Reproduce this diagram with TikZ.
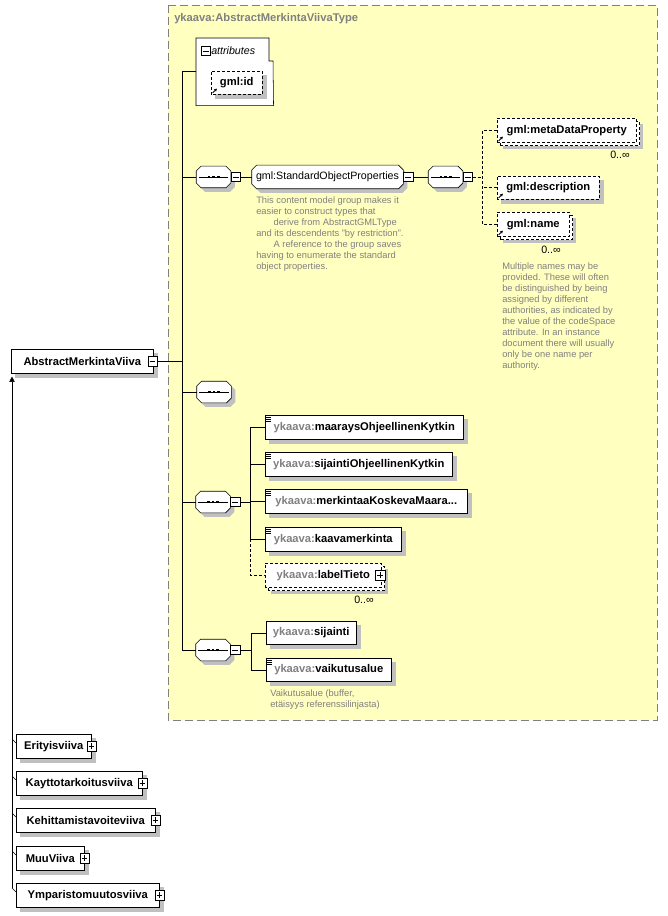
\documentclass[tikz,border=0pt]{standalone}
\usepackage{fontspec}
\setmainfont{Liberation Sans}
\usepackage{tikz}
\usetikzlibrary{calc}
\usetikzlibrary{arrows.meta}

\definecolor{bgyellow}{HTML}{FFFFC0}
\definecolor{framegray}{HTML}{808080}
\definecolor{shadowgray}{HTML}{C0C0C0}
\definecolor{docgray}{HTML}{808080}

\pgfdeclarelayer{back}
\pgfdeclarelayer{bg}
\pgfsetlayers{back,bg,main}

\newcommand{\ykns}{\textcolor{docgray}{ykaava:}}
% octagon outline behind a node
\newcommand{\octo}[2]{%
	\begin{pgfonlayer}{bg}
		\draw[fill=white, dshadow] ([xshift=#2]#1.north west) -- ([xshift=-#2]#1.north east) -- ([yshift=-#2]#1.north east) -- ([yshift=#2]#1.south east) -- ([xshift=-#2]#1.south east) -- ([xshift=#2]#1.south west) -- ([yshift=#2]#1.south west) -- ([yshift=-#2]#1.north west) -- cycle;
	\end{pgfonlayer}}
\newcommand{\seqmark}[1]{%
	\draw ([xshift=2pt]#1.west) -- ([xshift=-2pt]#1.east);
	\foreach \d in {-3.4pt,0pt,3.4pt}
	\fill[black] ([xshift=\d]#1.center) ++(-1.1pt,-1.1pt) rectangle ++(2.2pt,2.2pt);}

\tikzset{
	dshadow/.style={preaction={fill=shadowgray, draw=none, transform canvas={shift={(3pt,-3pt)}}}},
	elem/.style={draw, fill=white, inner sep=0pt, minimum height=18pt, font=\fontsize{8.4}{10}\selectfont\bfseries},
	opt/.style={fill=white, inner sep=0pt, minimum height=18pt, font=\fontsize{8.4}{10}\selectfont\bfseries},
	seqn/.style={inner sep=0pt, minimum width=25.5pt, minimum height=15.75pt},
	grp/.style={inner sep=0pt, minimum width=113.25pt, minimum height=17.25pt, font=\fontsize{8}{10}\selectfont},
	mbox/.style={draw, fill=white, minimum size=7pt, inner sep=0pt, path picture={\draw ([xshift=1.4pt]path picture bounding box.west) -- ([xshift=-1.4pt]path picture bounding box.east);}},
	pbox/.style={draw, fill=white, minimum size=7pt, inner sep=0pt, path picture={\draw ([xshift=1.4pt]path picture bounding box.west) -- ([xshift=-1.4pt]path picture bounding box.east); \draw ([yshift=1.4pt]path picture bounding box.south) -- ([yshift=-1.4pt]path picture bounding box.north);}},
	dline/.style={dash pattern=on 2.25pt off 1.5pt},
	doc/.style={anchor=north west, align=left, inner sep=0pt, text=docgray, font=\fontsize{7}{8.25}\selectfont},
	card/.style={inner sep=0pt, font=\fontsize{8}{10}\selectfont}
}

\begin{document}
\begin{tikzpicture}[x=0.75pt, y=-0.75pt, line width=0.75pt]
	\useasboundingbox (0,0) rectangle (667,916);
	\begin{pgfonlayer}{back}
		\fill[bgyellow] (168,5) rectangle (657,720);
		\draw[framegray, dash pattern=on 6pt off 3pt] (168,5) rectangle (657,720);
	\end{pgfonlayer}
	\node[anchor=west, inner sep=0pt, text=framegray, font=\fontsize{8.4}{10}\selectfont\bfseries] (title) at (174,19) {ykaava:AbstractMerkintaViivaType};

	% attributes
	\node[anchor=north west, minimum width=57.75pt, minimum height=50.25pt] (attr) at (196,38) {};
	\begin{pgfonlayer}{bg}
		\draw[fill=white] (attr.north west) -- ++(73,0) -- ++(0,23) -- ++(4,0) -- (attr.south east) -- (attr.south west) -- cycle;
	\end{pgfonlayer}
	\node[mbox] (mattr) at (206,51) {};
	\node[anchor=west, inner sep=0pt, font=\fontsize{8}{10}\selectfont\itshape] (attrtxt) at (211,51) {attributes};
	\node[opt, anchor=north west, minimum width=38.25pt, minimum height=17.25pt] (gmlid) at (211,71) {gml:id};

	% gml:StandardObjectProperties
	\node[seqn] (seq1) at (213.5,177) {};
	\octo{seq1}{3.5pt}\seqmark{seq1}
	\node[mbox, anchor=west] (m1) at (seq1.east) {};
	\node[grp] (grp) at (327.5,177) {gml:StandardObjectProperties};
	\octo{grp}{3.5pt}
	\node[mbox, anchor=west] (m2) at (grp.east) {};
	\node[doc] (grpdoc) at (256,196) {This content model group makes it\\easier to construct types that\\\hspace*{13pt}derive from AbstractGMLType\\and its descendents "by restriction".\\\hspace*{13pt}A reference to the group saves\\having to enumerate the standard\\object properties.};
	\node[seqn] (seq2) at (445.5,177) {};
	\octo{seq2}{3.5pt}\seqmark{seq2}
	\node[mbox, anchor=west] (m3) at (seq2.east) {};
	\node[opt, anchor=north west, minimum width=104.25pt] (meta) at (497,118) {gml:metaDataProperty};
	\node[card] (cmeta) at (620,155) {0..∞};
	\node[opt, anchor=north west, minimum width=76.5pt, minimum height=17.25pt] (desc) at (497,176) {gml:description};
	\node[opt, anchor=north west, minimum width=54pt] (name) at (497,212) {gml:name};
	\node[card] (cname) at (551,250) {0..∞};
	\node[doc] (namedoc) at (502,262) {Multiple names may be\\provided.  These will often\\be distinguished by being\\assigned by different\\authorities, as indicated by\\the value of the codeSpace\\attribute.  In an instance\\document there will usually\\only be one name per\\authority.};

	% AbstractMerkintaViiva
	\node[elem, anchor=north west, minimum width=106.5pt] (abs) at (11,349) {AbstractMerkintaViiva};
	\node[mbox] (mabs) at ([xshift=-0.75pt]abs.east) {};

	\node[seqn] (seq3) at (214,392) {};
	\octo{seq3}{3.5pt}\seqmark{seq3}

	\node[seqn] (seq4) at (213,502) {};
	\octo{seq4}{3.5pt}\seqmark{seq4}
	\node[mbox, anchor=west] (m4) at (seq4.east) {};
	\node[elem, anchor=north west, minimum width=148.5pt] (maara) at (265,415) {\ykns maaraysOhjeellinenKytkin};
	\node[elem, anchor=north west, minimum width=140.25pt] (sijok) at (265,452) {\ykns sijaintiOhjeellinenKytkin};
	\node[elem, anchor=north west, minimum width=151.5pt] (merk) at (265,489) {\ykns merkintaaKoskevaMaara...};
	\node[elem, anchor=north west, minimum width=102pt] (kaava) at (265,527) {\ykns kaavamerkinta};
	\node[opt, anchor=north west, minimum width=87pt] (label) at (265,563) {\ykns labelTieto};
	\node[card] (clabel) at (364,600) {0..∞};

	\node[seqn] (seq5) at (213,650) {};
	\octo{seq5}{3.5pt}\seqmark{seq5}
	\node[mbox, anchor=west] (m5) at (seq5.east) {};
	\node[elem, anchor=north west, minimum width=67.5pt, minimum height=17.25pt] (sij) at (266,621) {\ykns sijainti};
	\node[elem, anchor=north west, minimum width=93.75pt, minimum height=17.25pt] (vaik) at (266,658) {\ykns vaikutusalue};
	\node[doc] (vaikdoc) at (270,689) {Vaikutusalue (buffer,\\etäisyys referenssilinjasta)};

	% subtypes
	\foreach \n/\t/\y/\w in {erit/Erityisviiva/734/75, kaytto/Kayttotarkoitusviiva/771/126, kehit/Kehittamistavoiteviiva/808/139, muu/MuuViiva/846/68, ympar/Ymparistomuutosviiva/883/143} {
		\node[elem, anchor=north west, minimum width=\w*0.75pt] (\n) at (16,\y) {\t};
		\node[pbox] (p\n) at (\n.east) {};
		\draw ([yshift=-6.75pt]\n.north west) -- ++(-3pt,3pt);
	}
	\coordinate (inh) at ([shift={(-3pt,-3.75pt)}]ympar.north west);
	\draw[-{Triangle[length=4pt, width=4pt]}, shorten >=2.25pt] (inh) -- (inh |- abs.south);

	% shadows, stacked copies and dashed borders
	\begin{pgfonlayer}{bg}
		\foreach \b in {gmlid, desc, abs, maara, sijok, merk, kaava, sij, vaik, erit, kaytto, kehit, muu, ympar}
		\fill[shadowgray] ([shift={(3pt,-3pt)}]\b.south west) rectangle ([shift={(3pt,-3pt)}]\b.north east);
		\foreach \b in {meta, name, label}
		\fill[shadowgray] ([shift={(4.5pt,-4.5pt)}]\b.south west) rectangle ([shift={(4.5pt,-4.5pt)}]\b.north east);
		\foreach \b in {meta, name, label}
		\draw[dline, fill=white] ([shift={(2.25pt,-2.25pt)}]\b.south west) rectangle ([shift={(2.25pt,-2.25pt)}]\b.north east);
	\end{pgfonlayer}
	\foreach \b in {gmlid, meta, desc, name, label}
	\draw[dline] (\b.south west) rectangle (\b.north east);
	\node[pbox] (plabel) at ([xshift=-1pt]label.east) {};

	% glyphs: references and simple content
	\foreach \b in {gmlid, meta, desc, name}
	\draw[line width=0.6pt, -{Stealth[length=2.2pt, width=2.4pt]}] ([shift={(1.2pt,1.2pt)}]\b.south west) -- ++(3.2pt,3.2pt);
	\foreach \b in {maara, sijok, merk, kaava, vaik}
	\foreach \k in {1.5pt,3pt,4.5pt}
	\draw ([shift={(0.75pt,-\k)}]\b.north west) -- ++(3.75pt,0pt);

	% connectors
	\coordinate (sptop) at (182,0 |- attr.west);
	\coordinate (spbot) at (sptop |- seq5.west);
	\draw (attr.west) -- (sptop) -- (spbot);
	\foreach \s in {seq1, seq3, seq4, seq5}
	\draw (\s.west) -- (\s.west -| sptop);
	\draw (mabs.east) -- (mabs.east -| sptop);
	\draw (m1.east) -- (grp.west);
	\draw (m2.east) -- (seq2.west);

	\coordinate (br2) at ([xshift=7.5pt]m3.east);
	\draw[dline] (m3.east) -- (br2);
	\draw[dline] (meta.west) -- (meta.west -| br2) -- (name.west -| br2) -- (name.west);
	\draw[dline] (desc.west) -- (desc.west -| br2);

	\coordinate (br4) at ([xshift=7.5pt]m4.east);
	\draw (m4.east) -- (br4);
	\draw (maara.west) -- (maara.west -| br4) -- (kaava.west -| br4) -- (kaava.west);
	\foreach \e in {sijok, merk}
	\draw (\e.west) -- (\e.west -| br4);
	\draw[dline] (kaava.west -| br4) -- (label.west -| br4) -- (label.west);

	\coordinate (br5) at ([xshift=8pt]m5.east);
	\draw (m5.east) -- (br5);
	\draw (sij.west) -- (sij.west -| br5) -- (vaik.west -| br5) -- (vaik.west);
\end{tikzpicture}
\end{document}
